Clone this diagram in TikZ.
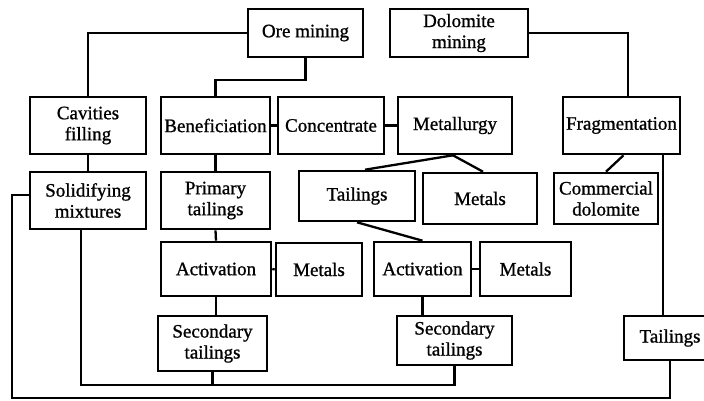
\documentclass[tikz,border=0pt]{standalone}
\usepackage{fontspec}
\setmainfont{Liberation Serif}
\newfontfamily\boxfont[FakeBold=1.0]{Liberation Serif}
\begin{document}
\begin{tikzpicture}[x=1pt,y=-1pt,
  box/.style={draw,line width=2.6pt,rectangle,inner sep=0pt,align=center,
    font=\boxfont\fontsize{19}{21}\selectfont},
  conn/.style={line width=2.3pt},
]
\useasboundingbox (0,0) rectangle (704,400);
\clip (0,0) rectangle (704,400);
% helper: place box by corners
\newcommand{\bx}[5]{\node[box,minimum width={#4-#2},minimum height={#5-#3}] (#1) at ({(#2+#4)/2},{(#3+#5)/2})}
\bx{ore}{248}{9}{363}{57} {Ore mining};
\bx{dolo}{390}{9}{528}{57} {Dolomite\\mining};
\bx{cav}{30}{97}{146}{154} {Cavities\\filling};
\bx{ben}{161}{97}{270}{154} {Beneficiation};
\bx{conc}{278}{97}{384}{154} {Concentrate};
\bx{metall}{398}{97}{512}{154} {Metallurgy};
\bx{frag}{563}{97}{680}{154} {Fragmentation};
\bx{solid}{30}{172}{146}{229} {Solidifying\\mixtures};
\bx{prim}{161}{172}{270}{229} {Primary\\tailings};
\bx{tail}{299}{171}{415}{221} {Tailings};
\bx{metalsA}{423}{173}{537}{224} {Metals};
\bx{comm}{554}{173}{658}{224} {Commercial\\dolomite};
\bx{actA}{161}{242}{271}{296} {Activation};
\bx{metalsB}{276}{243}{362}{296} {Metals};
\bx{actB}{374}{242}{471}{296} {Activation};
\bx{metalsC}{480}{242}{571}{296} {Metals};
\bx{secA}{158}{316}{267}{371} {Secondary\\tailings};
\bx{secB}{397}{316}{512}{365} {Secondary\\tailings};
\bx{tailR}{624}{316}{716}{360} {Tailings};
\coordinate (xR) at (663,0);
\coordinate (cornerL) at (12,398);
\coordinate (botR) at (454.5,385);
% connectors
\draw[conn] (ore.west) -| (cav.north);
\draw[conn] (ore.south) -- ++(0,22) -| (ben.north);
\draw[conn] (ben.east) -- (conc.west);
\draw[conn] (conc.east) -- (metall.west);
\draw[conn] (dolo.east) -| ([xshift=6.5pt]frag.north);
\draw[conn] (cav.south) -- (solid.north);
\draw[conn] ([yshift=5.5pt]solid.west) -| (cornerL) -| (tailR.south);
\draw[conn] (frag.south -| xR) -- (tailR.north -| xR);
\draw[conn] ([xshift=2pt]frag.south) -- (comm.north);
\draw[conn] ([xshift=-2pt]metall.south) -- ([xshift=8pt]tail.north);
\draw[conn] ([xshift=-2pt]metall.south) -- ([xshift=3pt]metalsA.north);
\draw[conn] (ben.south) -- (prim.north);
\draw[conn] (prim.south) -- (actA.north);
\draw[conn] (actA.south) -- (actA.south |- secA.north);
\draw[conn] (actA.east) -- (metalsB.west);
\draw[conn] (tail.south) -- (actB.north);
\draw[conn] (actB.east) -- (metalsC.west);
\draw[conn] (actB.south) -- (actB.south |- secB.north);
\draw[conn] ([xshift=-7pt]solid.south) |- (botR) -- (secB.south);
\draw[conn] (secA.south) -- (secA.south |- botR);
\end{tikzpicture}
\end{document}
